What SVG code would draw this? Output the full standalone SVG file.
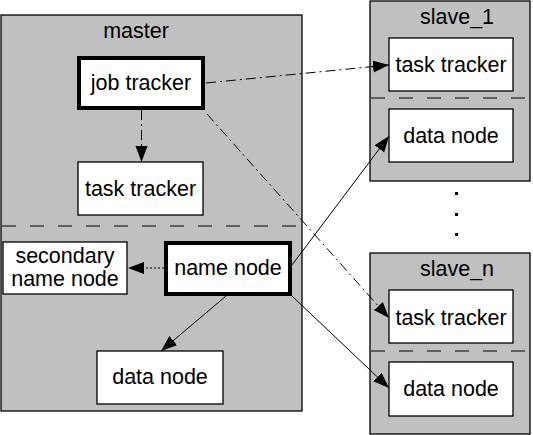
<svg xmlns="http://www.w3.org/2000/svg" width="533" height="435" viewBox="0 0 533 435">
<style>
.cont{fill:#c0c0c0;stroke:#000;stroke-width:1.3}
.box{fill:#fff;stroke:#000;stroke-width:1.3}
.bold{fill:#fff;stroke:#000;stroke-width:4}
.sep{stroke:#000;stroke-width:1;stroke-dasharray:14,14;fill:none}
text{font-family:"Liberation Sans",Arial,sans-serif;font-size:21.5px;fill:#000;text-anchor:middle}
.c{fill:none;stroke:#000;stroke-width:1}
.dd{stroke-dasharray:10,4,2,4}
.dt{stroke-dasharray:2,2}
</style>
<defs>
<marker id="ah" markerUnits="userSpaceOnUse" markerWidth="17" markerHeight="13" refX="16" refY="6" orient="auto">
<path d="M0,0 L16,6 L0,12 z" fill="#000"/>
</marker>
</defs>
<rect width="533" height="435" fill="#fff"/>
<g id="master">
<rect class="cont" x="1" y="15" width="301" height="396"/>
<line class="sep" x1="2" y1="226" x2="301" y2="226"/>
<text x="136" y="38">master</text>
</g>
<g id="job_tracker">
<rect class="bold" x="79" y="58" width="124" height="50"/>
<text x="141" y="90">job tracker</text>
</g>
<g id="master_task_tracker">
<rect class="box" x="78" y="162" width="125" height="53"/>
<text x="140.5" y="196">task tracker</text>
</g>
<g id="secondary_name_node">
<rect class="box" x="3" y="242" width="124" height="52"/>
<text x="65" y="263">secondary</text>
<text x="65" y="286">name node</text>
</g>
<g id="name_node">
<rect class="bold" x="166" y="243" width="124" height="51"/>
<text x="228" y="275">name node</text>
</g>
<g id="master_data_node">
<rect class="box" x="97" y="351" width="126" height="53"/>
<text x="160" y="384">data node</text>
</g>
<g id="slave_1">
<rect class="cont" x="370" y="1" width="160" height="180"/>
<line class="sep" x1="371" y1="98" x2="529" y2="98"/>
<text x="457" y="24">slave_1</text>
</g>
<g id="slave_1_task_tracker">
<rect class="box" x="389" y="38" width="124" height="53"/>
<text x="451" y="72">task tracker</text>
</g>
<g id="slave_1_data_node">
<rect class="box" x="389" y="109" width="124" height="53"/>
<text x="451" y="143">data node</text>
</g>
<g id="ellipsis">
<rect x="455" y="192" width="3" height="3" fill="#000"/>
<rect x="455" y="213" width="3" height="3" fill="#000"/>
<rect x="455" y="233" width="3" height="3" fill="#000"/>
</g>
<g id="slave_n">
<rect class="cont" x="370" y="253" width="160" height="181"/>
<line class="sep" x1="371" y1="351" x2="529" y2="351"/>
<text x="457" y="276">slave_n</text>
</g>
<g id="slave_n_task_tracker">
<rect class="box" x="389" y="290" width="124" height="53"/>
<text x="451" y="325">task tracker</text>
</g>
<g id="slave_n_data_node">
<rect class="box" x="389" y="362" width="124" height="54"/>
<text x="451" y="396">data node</text>
</g>
<g id="connectors">
<line class="c dd" x1="141.5" y1="110" x2="141.5" y2="162" marker-end="url(#ah)"/>
<line class="c dd" x1="206" y1="83" x2="389" y2="65" marker-end="url(#ah)"/>
<line class="c dd" x1="207" y1="114" x2="389" y2="318" marker-end="url(#ah)"/>
<line class="c dt" x1="164" y1="268" x2="128" y2="268" marker-end="url(#ah)"/>
<line class="c" x1="226" y1="296" x2="161" y2="351" marker-end="url(#ah)"/>
<line class="c" x1="292" y1="265" x2="389" y2="136" marker-end="url(#ah)"/>
<line class="c" x1="292" y1="296" x2="389" y2="388" marker-end="url(#ah)"/>
</g>
</svg>
